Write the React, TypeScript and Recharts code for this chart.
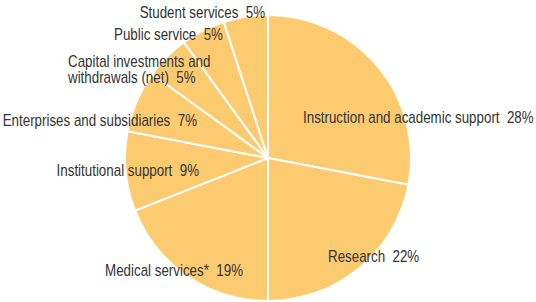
import { Cell, Pie, PieChart } from "recharts";

const categories = [
  "Instruction and academic support",
  "Research",
  "Medical services*",
  "Institutional support",
  "Enterprises and subsidiaries",
  "Capital investments and\nwithdrawals (net)",
  "Public service",
  "Student services",
];
const shares = [28, 22, 19, 9, 7, 5, 5, 5];

const data = categories.map((name, i) => ({ name, value: shares[i] }));

// hand placed label anchors, offset from the pie centre
const labelSpots: Array<{ dx: number; dy: number; anchor: "start" | "end" }> = [
  { dx: 35, dy: -35, anchor: "start" },
  { dx: 60, dy: 104, anchor: "start" },
  { dx: -25, dy: 118, anchor: "end" },
  { dx: -69, dy: 18, anchor: "end" },
  { dx: -71, dy: -32, anchor: "end" },
  { dx: -200, dy: -91, anchor: "start" },
  { dx: -45, dy: -118, anchor: "end" },
  { dx: -3, dy: -140, anchor: "end" },
];

const FILL = "#fdcb6f";
const FONT = "'Liberation Sans', Arial, sans-serif";

function renderLabel(props: any) {
  const { cx, cy, index, name, value } = props;
  const spot = labelSpots[index];
  const lines = String(name).split("\n");
  const x = cx + spot.dx;
  const y = cy + spot.dy;
  // condensed look: squeeze Liberation Sans horizontally
  return (
    <g key={index} transform={`translate(${x},${y}) scale(0.835,1)`}>
      <text
        x={0}
        y={0}
        textAnchor={spot.anchor}
        fill="#333"
        fontSize={16}
        fontFamily={FONT}
        style={{ whiteSpace: "pre" }}
      >
        {lines.map((line, i) => (
          <tspan key={i} x={0} dy={i === 0 ? 0 : 16}>
            {i === lines.length - 1 ? `${line}  ${value}%` : line}
          </tspan>
        ))}
      </text>
    </g>
  );
}

export default function App() {
  return (
    <div style={{ width: 536, height: 302 }}>
      <style>{`body { margin: 0; }`}</style>
      <PieChart width={536} height={302} margin={{ top: 0, right: 0, bottom: 0, left: 0 }}>
        <Pie
          data={data}
          dataKey="value"
          nameKey="name"
          cx={268}
          cy={158}
          outerRadius={143}
          startAngle={90}
          endAngle={-270}
          stroke="#fff"
          strokeWidth={2}
          label={renderLabel}
          labelLine={false}
          isAnimationActive={false}
        >
          {data.map((d) => (
            <Cell key={d.name} fill={FILL} />
          ))}
        </Pie>
      </PieChart>
    </div>
  );
}
